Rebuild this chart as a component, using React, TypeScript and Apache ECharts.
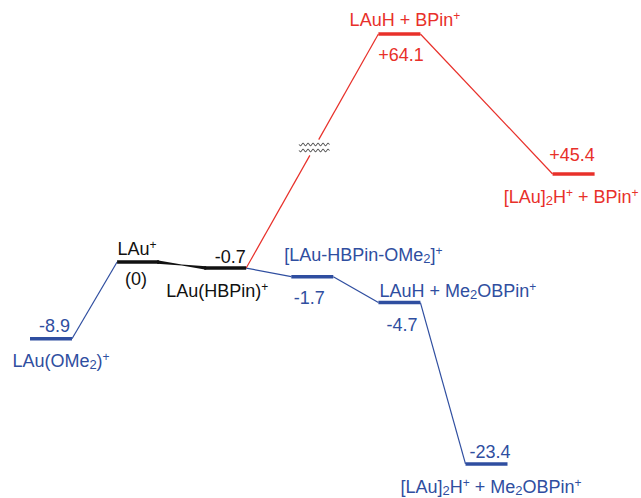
import React, { useEffect, useRef } from "react";
import * as echarts from "echarts";

// ---- data ----
const levelNames = [
  "LAu(OMe_2)^+",
  "LAu^+",
  "LAu(HBPin)^+",
  "[LAu-HBPin-OMe_2]^+",
  "LAuH + Me_2OBPin^+",
  "[LAu]_2H^+ + Me_2OBPin^+",
  "LAuH + BPin^+",
  "[LAu]_2H^+ + BPin^+",
];
const energies = [-8.9, 0, -0.7, -1.7, -4.7, -23.4, 64.1, 45.4];
const positions = [0, 1, 2, 3, 4, 5, 4, 6];
const levelGroup = ["blue", "black", "black", "blue", "blue", "blue", "red", "red"];
const connections: [number, number, string][] = [
  [0, 1, "blue"],
  [1, 2, "black"],
  [2, 3, "blue"],
  [3, 4, "blue"],
  [4, 5, "blue"],
  [2, 6, "red"],
  [6, 7, "red"],
];
const brokenConnection = 5;

// broken energy axis: values above the break are compressed
const BREAK_AT = 20;
const BREAK_SHIFT = 33.64;
const BREAK_SCALE = 0.8674;
const display = (v: number) => (v > BREAK_AT ? (v - BREAK_SHIFT) * BREAK_SCALE : v);

// ---- layout / style ----
const COLORS: Record<string, string> = { blue: "#2f4ea0", black: "#111111", red: "#e8302a" };
const nameOnTop = [false, true, false, true, true, false, true, false];
const topDx = [3.5, -1, 5, 51, 58.5, 3.5, 5.5, -1.5];
const topDy = [-13, -13, -11, -22, -12, -12, -14, -19];
const botDx = [10, -2, -8, -3, 2.5, 4.5, 1.5, -2.5];
const botDy = [22.5, 17, 23, 21, 22, 23, 21, 23];
const HW = 21;
const FONT = "'Liberation Sans', Arial, sans-serif";

const energyText = (v: number) => (v === 0 ? "(0)" : (v > 0 ? "+" : "") + v.toFixed(1));

function toRich(s: string) {
  // markup: _x => subscript x, ^x => superscript x
  let out = "";
  let buf = "";
  const flush = () => {
    if (buf) out += "{n|" + buf + "}";
    buf = "";
  };
  for (let i = 0; i < s.length; i++) {
    const ch = s[i];
    if (ch === "_" || ch === "^") {
      flush();
      out += "{" + (ch === "_" ? "sub" : "sup") + "|" + s[i + 1] + "}";
      i++;
    } else buf += ch;
  }
  flush();
  return out;
}

function richStyles(color: string) {
  return {
    n: { fontSize: 18, lineHeight: 20, fill: color, fontFamily: FONT },
    sup: { fontSize: 12, lineHeight: 12, verticalAlign: "top", fill: color, fontFamily: FONT },
    sub: { fontSize: 13, lineHeight: 7, verticalAlign: "bottom", fill: color, fontFamily: FONT },
  };
}

function textEl(x: number, y: number, text: string, color: string) {
  return {
    type: "text",
    x,
    y,
    style: {
      text,
      rich: richStyles(color),
      fill: color,
      fontSize: 18,
      fontFamily: FONT,
      align: "center",
      verticalAlign: "middle",
    },
  };
}

function wave(cx: number, cy: number) {
  const pts: number[][] = [];
  for (let k = 0; k <= 60; k++) {
    const x = -15 + k * 0.5;
    pts.push([cx + x, cy + 1.4 * Math.sin((x / 5) * 2 * Math.PI)]);
  }
  return pts;
}

export default function App() {
  const ref = useRef<HTMLDivElement>(null);
  useEffect(() => {
    if (!ref.current) return;
    const chart = echarts.init(ref.current, undefined, { renderer: "svg" });
    const levelData = positions.map((p, i) => [p, display(energies[i])]);
    const connData = connections.map(([a, b]) => [
      positions[a],
      display(energies[a]),
      positions[b],
      display(energies[b]),
    ]);
    chart.setOption({
      animation: false,
      backgroundColor: "#ffffff",
      grid: { left: 7.45, right: 23.85, top: 3.1, bottom: 11.62 },
      xAxis: { type: "value", min: -0.5, max: 6.5, show: false },
      yAxis: { type: "value", min: -26, max: 30, show: false },
      series: [
        {
          type: "custom",
          clip: false,
          encode: { x: [0, 2], y: [1, 3] },
          data: connData,
          renderItem: (params: any, api: any) => {
            const i = params.dataIndex;
            const p1 = api.coord([api.value(0), api.value(1)]);
            const p2 = api.coord([api.value(2), api.value(3)]);
            const s = [p1[0] + HW, p1[1]];
            const e = [p2[0] - HW, p2[1]];
            const color = COLORS[connections[i][2]];
            const lw = 1.2;
            if (connections[i][2] === "black") {
              // tapered joint between the two black levels
              const m = [(s[0] + e[0]) / 2, (s[1] + e[1]) / 2];
              return {
                type: "polygon",
                shape: {
                  points: [
                    [s[0] - 2, s[1] - 1.75],
                    [m[0], m[1] - 0.6],
                    [e[0] + 2, e[1] - 1.75],
                    [e[0] + 2, e[1] + 1.75],
                    [m[0], m[1] + 0.6],
                    [s[0] - 2, s[1] + 1.75],
                  ],
                },
                style: { fill: color },
              };
            }
            if (i !== brokenConnection) {
              return {
                type: "line",
                shape: { x1: s[0], y1: s[1], x2: e[0], y2: e[1] },
                style: { stroke: color, lineWidth: lw },
              };
            }
            const t = 0.515;
            const len = Math.hypot(e[0] - s[0], e[1] - s[1]);
            const g = 9 / len;
            const at = (f: number) => [s[0] + (e[0] - s[0]) * f, s[1] + (e[1] - s[1]) * f];
            const a = at(t - g);
            const b = at(t + g);
            const c = at(t);
            return {
              type: "group",
              children: [
                { type: "line", shape: { x1: s[0], y1: s[1], x2: a[0], y2: a[1] }, style: { stroke: color, lineWidth: lw } },
                { type: "line", shape: { x1: b[0], y1: b[1], x2: e[0], y2: e[1] }, style: { stroke: color, lineWidth: lw } },
                { type: "polyline", shape: { points: wave(c[0], c[1] - 3) }, style: { stroke: "#222", lineWidth: 1, fill: null } },
                { type: "polyline", shape: { points: wave(c[0], c[1] + 3) }, style: { stroke: "#222", lineWidth: 1, fill: null } },
              ],
            };
          },
        },
        {
          type: "custom",
          clip: false,
          data: levelData,
          renderItem: (params: any, api: any) => {
            const i = params.dataIndex;
            const c = api.coord([api.value(0), api.value(1)]);
            const color = COLORS[levelGroup[i]];
            const nameT = toRich(levelNames[i]);
            const enT = "{n|" + energyText(energies[i]) + "}";
            const topT = nameOnTop[i] ? nameT : enT;
            const botT = nameOnTop[i] ? enT : nameT;
            return {
              type: "group",
              children: [
                {
                  type: "line",
                  shape: { x1: c[0] - HW, y1: c[1], x2: c[0] + HW, y2: c[1] },
                  style: { stroke: color, lineWidth: 3.5 },
                },
                textEl(c[0] + topDx[i], c[1] + topDy[i], topT, color),
                textEl(c[0] + botDx[i], c[1] + botDy[i], botT, color),
              ],
            };
          },
        },
      ],
    });
    return () => chart.dispose();
  }, []);
  return (
    <div
      ref={ref}
      style={{ position: "absolute", left: 0, top: 0, width: 641, height: 498, background: "#fff" }}
    />
  );
}
